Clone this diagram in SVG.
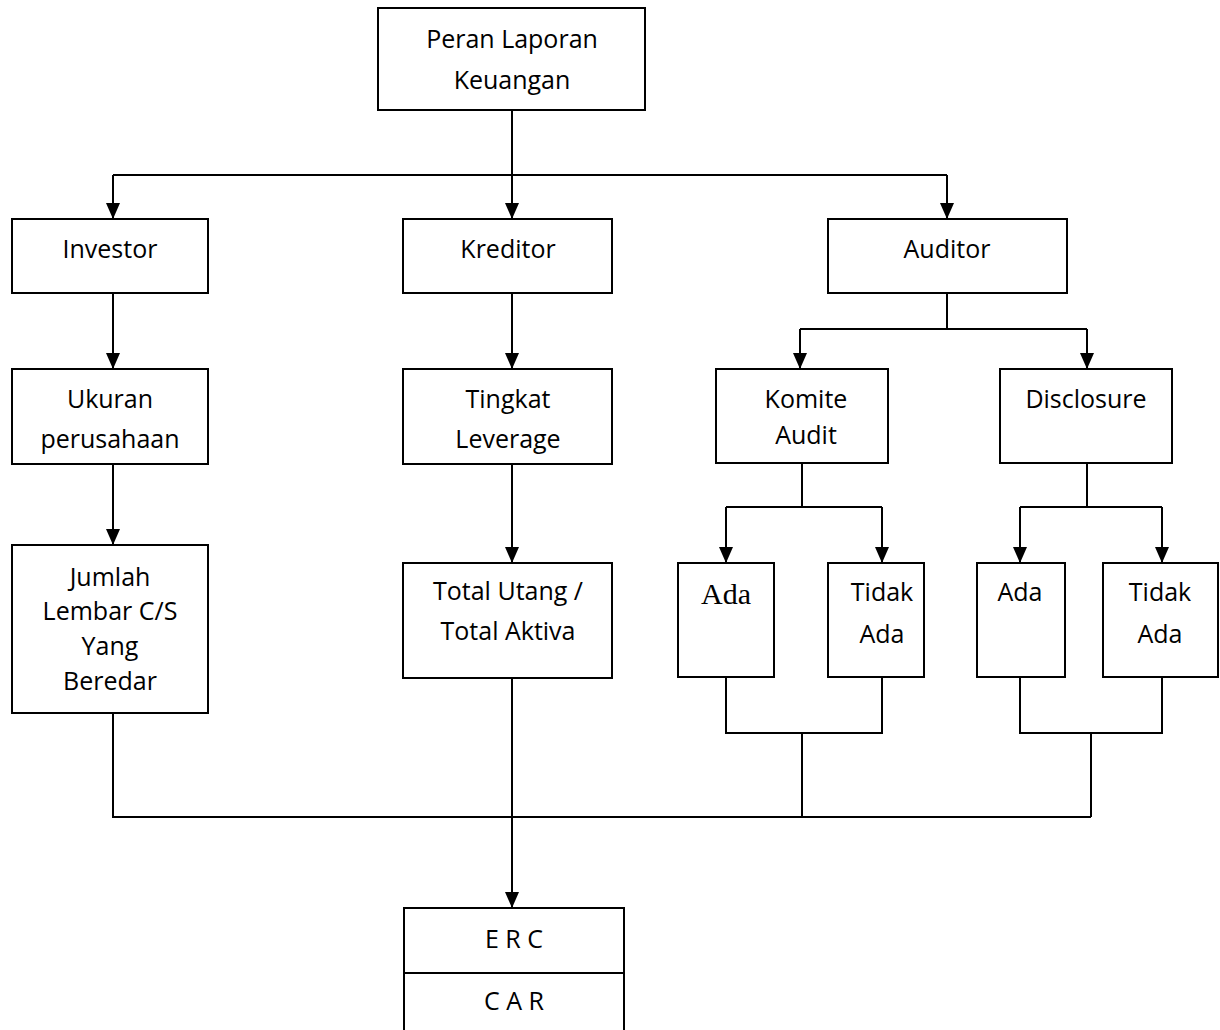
<svg xmlns="http://www.w3.org/2000/svg" width="1220" height="1030" viewBox="0 0 1220 1030">
<style>
.box{fill:#fff;stroke:#000;stroke-width:2}
.t{font-family:"Open Sans","Liberation Sans",sans-serif;font-size:25px;text-anchor:middle;fill:#000}
.s{font-family:"Liberation Serif",serif;font-size:30px;text-anchor:middle;fill:#000}
.c{fill:none;stroke:#000;stroke-width:2}
</style>
<defs>
<marker id="ah" markerWidth="14" markerHeight="16" refX="16" refY="7" orient="auto" markerUnits="userSpaceOnUse">
<path d="M0,0 L16,7 L0,14 Z" fill="#000"/>
</marker>
</defs>
<rect width="1220" height="1030" fill="#fff"/>
<g id="connectors">
<path class="c" d="M512,110 V175 M113,175 H947"/>
<path class="c" d="M113,175 V219" marker-end="url(#ah)"/>
<path class="c" d="M512,175 V219" marker-end="url(#ah)"/>
<path class="c" d="M947,175 V219" marker-end="url(#ah)"/>
<path class="c" d="M113,293 V369" marker-end="url(#ah)"/>
<path class="c" d="M113,464 V545" marker-end="url(#ah)"/>
<path class="c" d="M512,293 V369" marker-end="url(#ah)"/>
<path class="c" d="M512,464 V563" marker-end="url(#ah)"/>
<path class="c" d="M947,293 V329 M800,329 H1087"/>
<path class="c" d="M800,329 V369" marker-end="url(#ah)"/>
<path class="c" d="M1087,329 V369" marker-end="url(#ah)"/>
<path class="c" d="M802,463 V507 M726,507 H882"/>
<path class="c" d="M726,507 V563" marker-end="url(#ah)"/>
<path class="c" d="M882,507 V563" marker-end="url(#ah)"/>
<path class="c" d="M1087,463 V507 M1020,507 H1162"/>
<path class="c" d="M1020,507 V563" marker-end="url(#ah)"/>
<path class="c" d="M1162,507 V563" marker-end="url(#ah)"/>
<path class="c" d="M726,677 V733 H882 V677 M802,733 V817"/>
<path class="c" d="M1020,677 V733 H1162 V677 M1091,733 V817"/>
<path class="c" d="M113,713 V817 H1091"/>
<path class="c" d="M512,678 V908" marker-end="url(#ah)"/>
</g>
<g id="peran"><rect class="box" x="378" y="8" width="267" height="102"/><text class="t" x="512" y="48">Peran Laporan</text><text class="t" x="512" y="89">Keuangan</text></g>
<g id="investor"><rect class="box" x="12" y="219" width="196" height="74"/><text class="t" x="110" y="258">Investor</text></g>
<g id="kreditor"><rect class="box" x="403" y="219" width="209" height="74"/><text class="t" x="508" y="258">Kreditor</text></g>
<g id="auditor"><rect class="box" x="828" y="219" width="239" height="74"/><text class="t" x="947" y="258">Auditor</text></g>
<g id="ukuran"><rect class="box" x="12" y="369" width="196" height="95"/><text class="t" x="110" y="408">Ukuran</text><text class="t" x="110" y="448">perusahaan</text></g>
<g id="tingkat"><rect class="box" x="403" y="369" width="209" height="95"/><text class="t" x="508" y="408">Tingkat</text><text class="t" x="508" y="448">Leverage</text></g>
<g id="komite"><rect class="box" x="716" y="369" width="172" height="94"/><text class="t" x="806" y="408">Komite</text><text class="t" x="806" y="444">Audit</text></g>
<g id="disclosure"><rect class="box" x="1000" y="369" width="172" height="94"/><text class="t" x="1086" y="408">Disclosure</text></g>
<g id="jumlah"><rect class="box" x="12" y="545" width="196" height="168"/><text class="t" x="110" y="586">Jumlah</text><text class="t" x="110" y="620">Lembar C/S</text><text class="t" x="110" y="655">Yang</text><text class="t" x="110" y="690">Beredar</text></g>
<g id="total"><rect class="box" x="403" y="563" width="209" height="115"/><text class="t" x="508" y="600">Total Utang /</text><text class="t" x="508" y="640">Total Aktiva</text></g>
<g id="ada1"><rect class="box" x="678" y="563" width="96" height="114"/><text class="s" x="726" y="604">Ada</text></g>
<g id="tidak1"><rect class="box" x="828" y="563" width="96" height="114"/><text class="t" x="882" y="601">Tidak</text><text class="t" x="882" y="643">Ada</text></g>
<g id="ada2"><rect class="box" x="977" y="563" width="88" height="114"/><text class="t" x="1020" y="601">Ada</text></g>
<g id="tidak2"><rect class="box" x="1103" y="563" width="115" height="114"/><text class="t" x="1160" y="601">Tidak</text><text class="t" x="1160" y="643">Ada</text></g>
<g id="erc"><path class="box" d="M404,1032 V908 H624 V1032 M404,973 H624"/><text class="t" x="514" y="948" font-size="22">E R C</text><text class="t" x="514" y="1010" font-size="22">C A R</text></g>
</svg>
